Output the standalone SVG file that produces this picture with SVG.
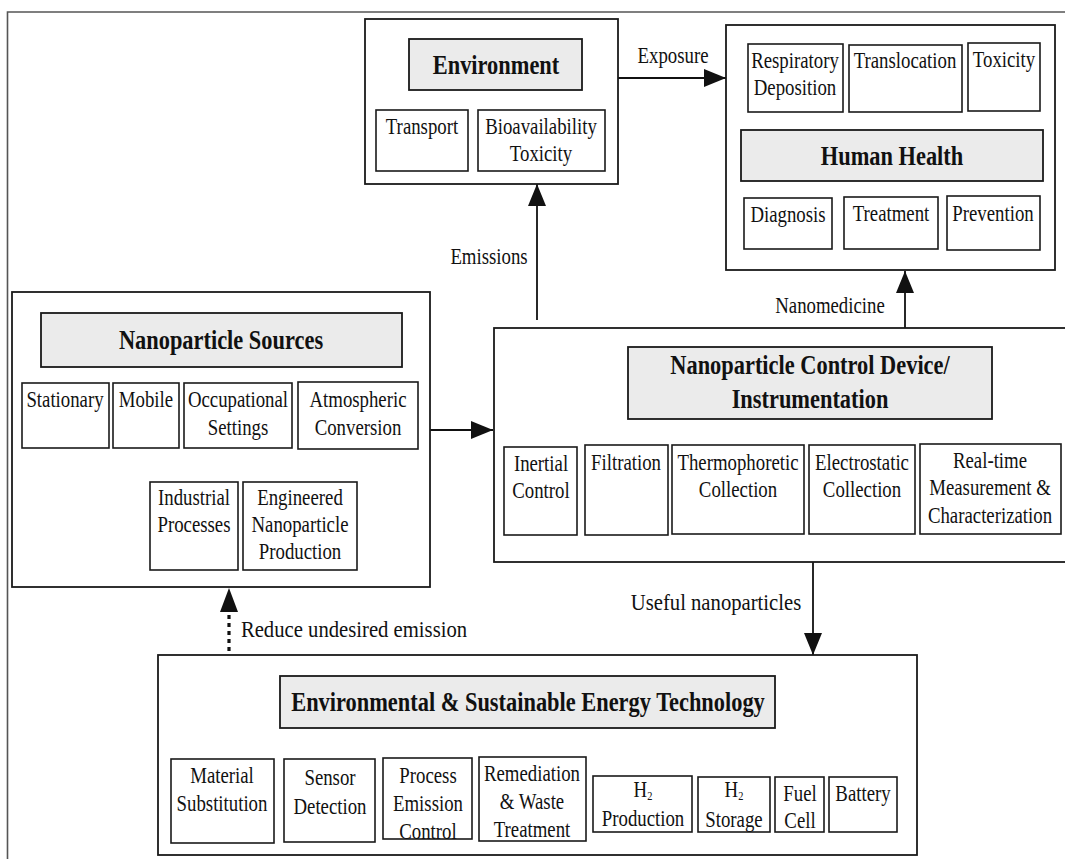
<svg xmlns="http://www.w3.org/2000/svg" width="1065" height="859" viewBox="0 0 1065 859">
<style>
.b{fill:#fff;stroke:#1a1a1a;stroke-width:1.6}
.o{fill:#fff;stroke:#1a1a1a;stroke-width:1.8}
.hd{fill:#ebebeb;stroke:#1a1a1a;stroke-width:1.8}
.t{font-family:"Liberation Serif","Times New Roman",serif;font-size:23.5px;text-anchor:middle;fill:#111}
.h{font-weight:bold;font-size:28px}
.ln{stroke:#111;stroke-width:1.8;fill:none}
.fr{stroke:#555;stroke-width:1.6;fill:none}
</style>
<defs>
<marker id="ah" viewBox="0 0 22 18" refX="22" refY="9" markerWidth="22" markerHeight="18" orient="auto" markerUnits="userSpaceOnUse"><path d="M0,0 L22,9 L0,18 z" fill="#111"/></marker>
</defs>
<rect width="1065" height="859" fill="#fff"/>
<path class="fr" d="M7.5,859 V12 H1065"/>

<g id="connectors">
<line class="ln" x1="618" y1="78" x2="726" y2="78" marker-end="url(#ah)"/>
<line class="ln" x1="537" y1="320" x2="537" y2="184" marker-end="url(#ah)"/>
<line class="ln" x1="905" y1="328" x2="905" y2="271" marker-end="url(#ah)"/>
<line class="ln" x1="430" y1="430" x2="493" y2="430" marker-end="url(#ah)"/>
<line class="ln" x1="813" y1="562" x2="813" y2="655" marker-end="url(#ah)"/>
<line x1="229" y1="651" x2="229" y2="610" stroke="#111" stroke-width="3.2" stroke-dasharray="4,4"/>
<path d="M220,612 L229,588 L238,612 z" fill="#111"/>
<line class="ln" x1="217" y1="448" x2="217" y2="482"/>
<line class="ln" x1="262" y1="448" x2="262" y2="482"/>
<text class="t" transform="translate(673,63) scale(.8,1)">Exposure</text>
<text class="t" transform="translate(489,264) scale(.8,1)">Emissions</text>
<text class="t" transform="translate(830,313) scale(.8,1)">Nanomedicine</text>
<text class="t" transform="translate(354,637) scale(.88,1)">Reduce undesired emission</text>
<text class="t" transform="translate(716,610) scale(.88,1)">Useful nanoparticles</text>
</g>

<g id="environment">
<rect class="o" x="365" y="19" width="253" height="165"/>
<rect class="hd" x="409" y="39" width="173" height="51"/>
<text class="t h" transform="translate(496,74) scale(.8,1)">Environment</text>
<rect class="b" x="376" y="110" width="92" height="61"/>
<text class="t" transform="translate(422,134) scale(.8,1)">Transport</text>
<rect class="b" x="478" y="110" width="127" height="61"/>
<text class="t" transform="translate(541,134) scale(.8,1)"><tspan x="0">Bioavailability</tspan><tspan x="0" dy="27">Toxicity</tspan></text>
</g>

<g id="human-health">
<rect class="o" x="726" y="25" width="329" height="245"/>
<rect class="b" x="748" y="44" width="95" height="68"/>
<text class="t" transform="translate(795,68) scale(.8,1)"><tspan x="0">Respiratory</tspan><tspan x="0" dy="27">Deposition</tspan></text>
<rect class="b" x="849" y="45" width="113" height="67"/>
<text class="t" transform="translate(905,68) scale(.8,1)">Translocation</text>
<rect class="b" x="968" y="43" width="72" height="68"/>
<text class="t" transform="translate(1004,67) scale(.8,1)">Toxicity</text>
<rect class="hd" x="741" y="130" width="302" height="51"/>
<text class="t h" transform="translate(892,165) scale(.8,1)">Human Health</text>
<rect class="b" x="744" y="198" width="88" height="51"/>
<text class="t" transform="translate(788,222) scale(.8,1)">Diagnosis</text>
<rect class="b" x="844" y="197" width="94" height="52"/>
<text class="t" transform="translate(891,221) scale(.8,1)">Treatment</text>
<rect class="b" x="947" y="196" width="93" height="54"/>
<text class="t" transform="translate(993,221) scale(.8,1)">Prevention</text>
</g>

<g id="nanoparticle-sources">
<rect class="o" x="12" y="292" width="418" height="295"/>
<rect class="hd" x="41" y="313" width="361" height="54"/>
<text class="t h" transform="translate(221,349) scale(.8,1)">Nanoparticle Sources</text>
<rect class="b" x="22" y="383" width="87" height="65"/>
<text class="t" transform="translate(65,407) scale(.8,1)">Stationary</text>
<rect class="b" x="113" y="383" width="66" height="65"/>
<text class="t" transform="translate(146,407) scale(.8,1)">Mobile</text>
<rect class="b" x="184" y="383" width="108" height="65"/>
<text class="t" transform="translate(238,407) scale(.8,1)"><tspan x="0">Occupational</tspan><tspan x="0" dy="28">Settings</tspan></text>
<rect class="b" x="298" y="382" width="120" height="67"/>
<text class="t" transform="translate(358,407) scale(.8,1)"><tspan x="0">Atmospheric</tspan><tspan x="0" dy="28">Conversion</tspan></text>
<rect class="b" x="150" y="482" width="88" height="88"/>
<text class="t" transform="translate(194,505) scale(.8,1)"><tspan x="0">Industrial</tspan><tspan x="0" dy="27">Processes</tspan></text>
<rect class="b" x="243" y="482" width="114" height="88"/>
<text class="t" transform="translate(300,505) scale(.8,1)"><tspan x="0">Engineered</tspan><tspan x="0" dy="27">Nanoparticle</tspan><tspan x="0" dy="27">Production</tspan></text>
</g>

<g id="control-device">
<rect class="o" x="494" y="328" width="590" height="234"/>
<rect class="hd" x="628" y="347" width="364" height="72"/>
<text class="t h" transform="translate(810,374) scale(.8,1)"><tspan x="0">Nanoparticle Control Device/</tspan><tspan x="0" dy="34">Instrumentation</tspan></text>
<rect class="b" x="504" y="447" width="73" height="88"/>
<text class="t" transform="translate(541,471) scale(.8,1)"><tspan x="0">Inertial</tspan><tspan x="0" dy="27">Control</tspan></text>
<rect class="b" x="585" y="445" width="83" height="90"/>
<text class="t" transform="translate(626,470) scale(.8,1)">Filtration</text>
<rect class="b" x="672" y="445" width="132" height="89"/>
<text class="t" transform="translate(738,470) scale(.8,1)"><tspan x="0">Thermophoretic</tspan><tspan x="0" dy="27">Collection</tspan></text>
<rect class="b" x="809" y="445" width="106" height="89"/>
<text class="t" transform="translate(862,470) scale(.8,1)"><tspan x="0">Electrostatic</tspan><tspan x="0" dy="27">Collection</tspan></text>
<rect class="b" x="920" y="444" width="141" height="90"/>
<text class="t" transform="translate(990,468) scale(.8,1)"><tspan x="0">Real-time</tspan><tspan x="0" dy="27">Measurement &amp;</tspan><tspan x="0" dy="28">Characterization</tspan></text>
</g>

<g id="energy-technology">
<rect class="o" x="158" y="655" width="759" height="200"/>
<rect class="hd" x="280" y="676" width="495" height="52"/>
<text class="t h" transform="translate(528,711) scale(.8,1)">Environmental &amp; Sustainable Energy Technology</text>
<rect class="b" x="171" y="759" width="103" height="84"/>
<text class="t" transform="translate(222,783) scale(.8,1)"><tspan x="0">Material</tspan><tspan x="0" dy="28">Substitution</tspan></text>
<rect class="b" x="284" y="759" width="91" height="83"/>
<text class="t" transform="translate(330,785) scale(.8,1)"><tspan x="0">Sensor</tspan><tspan x="0" dy="29">Detection</tspan></text>
<rect class="b" x="383" y="758" width="89" height="81"/>
<text class="t" transform="translate(428,783) scale(.8,1)"><tspan x="0">Process</tspan><tspan x="0" dy="28">Emission</tspan><tspan x="0" dy="28">Control</tspan></text>
<rect class="b" x="479" y="757" width="107" height="84"/>
<text class="t" transform="translate(532,781) scale(.8,1)"><tspan x="0">Remediation</tspan><tspan x="0" dy="28">&amp; Waste</tspan><tspan x="0" dy="28">Treatment</tspan></text>
<rect class="b" x="593" y="776" width="99" height="56"/>
<text class="t" transform="translate(643,797) scale(.8,1)">H<tspan font-size="13" dy="3">2</tspan></text>
<text class="t" transform="translate(643,826) scale(.8,1)">Production</text>
<rect class="b" x="698" y="777" width="72" height="55"/>
<text class="t" transform="translate(734,797) scale(.8,1)">H<tspan font-size="13" dy="3">2</tspan></text>
<text class="t" transform="translate(734,827) scale(.8,1)">Storage</text>
<rect class="b" x="775" y="777" width="49" height="55"/>
<text class="t" transform="translate(800,801) scale(.8,1)"><tspan x="0">Fuel</tspan><tspan x="0" dy="27">Cell</tspan></text>
<rect class="b" x="829" y="777" width="68" height="55"/>
<text class="t" transform="translate(863,801) scale(.8,1)">Battery</text>
</g>
</svg>
